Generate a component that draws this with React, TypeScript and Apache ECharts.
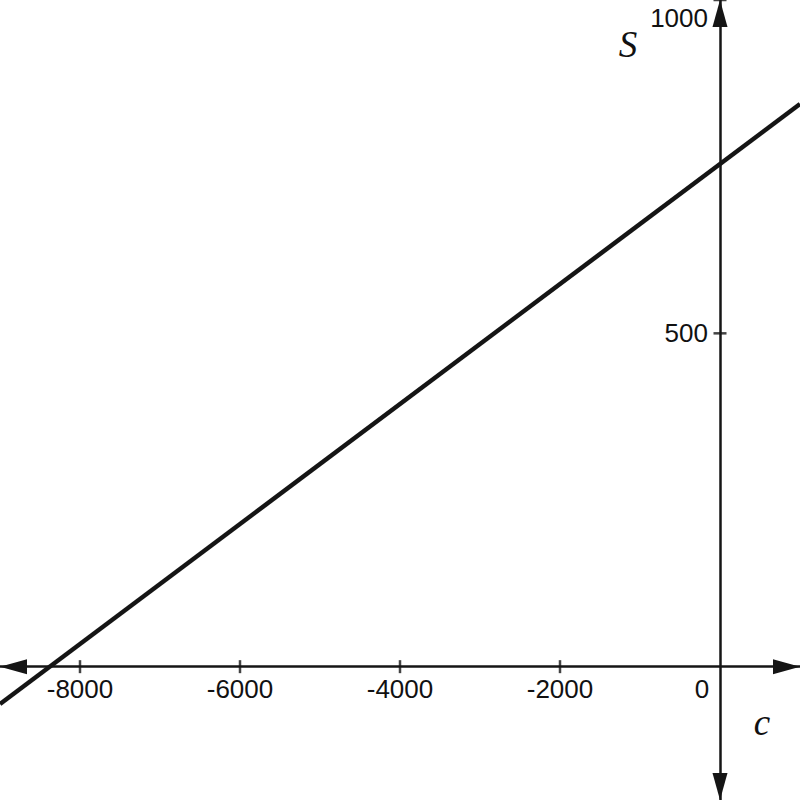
import React, { useEffect, useRef } from "react";
import * as echarts from "echarts";

// Data
const lineC = [-9000, 1000];
const lineS = [-56, 844];
const xTickValues = [-8000, -6000, -4000, -2000];
const xLabelValues = [-8000, -6000, -4000, -2000, 0];
const yTickValues = [500, 1000];
const yLabelValues = [500, 1000];
const xRange = [-9000, 1000];
const yRange = [-200, 1000];
const xName = "c";
const yName = "S";

const INK = "#151515";
const W = 800;
const H = 800;
const LABEL_FONT = "Liberation Sans, Arial, sans-serif";
const LABEL_SIZE = 26;

export default function App() {
  const ref = useRef<HTMLDivElement>(null);
  useEffect(() => {
    if (!ref.current) return;
    const chart = echarts.init(ref.current, undefined, { renderer: "svg" });
    const lineData = lineC.map((c, i) => [c, lineS[i]]);
    // place axes at the zero of the other axis (grid covers the whole canvas)
    const yAxisOffset = -((0 - xRange[0]) / (xRange[1] - xRange[0])) * W;
    const xAxisOffset = -((0 - yRange[0]) / (yRange[1] - yRange[0])) * H;
    const option: any = {
      animation: false,
      backgroundColor: "#ffffff",
      grid: {
        left: 0,
        right: 0,
        top: 0,
        bottom: 0,
        containLabel: false,
        outerBoundsMode: "none",
      },
      xAxis: {
        type: "value",
        position: "bottom",
        offset: xAxisOffset,
        min: xRange[0],
        max: xRange[1],
        splitLine: { show: false },
        axisTick: { show: false },
        axisLine: {
          onZero: false,
          symbol: ["triangle", "triangle"],
          symbolSize: [15, 27],
          symbolOffset: [13.5, -13.5],
          lineStyle: { color: INK, width: 2.5 },
        },
        axisLabel: {
          customValues: xLabelValues,
          margin: 9,
          fontFamily: LABEL_FONT,
          fontSize: LABEL_SIZE,
          color: "#111",
          formatter: (v: number) => (v === 0 ? "{z|0}" : String(v)),
          rich: {
            z: {
              padding: [0, 36, 0, 0],
              fontFamily: LABEL_FONT,
              fontSize: LABEL_SIZE,
              color: "#111",
            },
          },
        },
      },
      yAxis: {
        type: "value",
        position: "left",
        offset: yAxisOffset,
        min: yRange[0],
        max: yRange[1],
        splitLine: { show: false },
        axisTick: { show: false },
        axisLine: {
          onZero: false,
          symbol: ["triangle", "triangle"],
          symbolSize: [15, 27],
          symbolOffset: [13.5, -13.5],
          lineStyle: { color: INK, width: 2.5 },
        },
        axisLabel: {
          customValues: yLabelValues,
          margin: 12,
          fontFamily: LABEL_FONT,
          fontSize: LABEL_SIZE,
          lineHeight: 36,
          color: "#111",
          formatter: (v: number) => (v === 1000 ? "\n1000" : String(v)),
        },
      },
      graphic: [
        {
          type: "text",
          x: 628,
          y: 44,
          style: {
            text: yName,
            font: "italic 37px 'Liberation Serif', 'Times New Roman', serif",
            fill: "#111",
            textAlign: "center",
            textVerticalAlign: "middle",
          },
        },
        {
          type: "text",
          x: 762,
          y: 722,
          style: {
            text: xName,
            font: "italic 37px 'Liberation Serif', 'Times New Roman', serif",
            fill: "#111",
            textAlign: "center",
            textVerticalAlign: "middle",
          },
        },
      ],
      series: [
        {
          type: "line",
          data: lineData,
          symbol: "none",
          lineStyle: { color: INK, width: 4.5 },
          z: 3,
        },
        {
          type: "scatter",
          data: xTickValues.map((c) => [c, 0]),
          symbol: "rect",
          symbolSize: [2.5, 13],
          itemStyle: { color: INK },
          clip: false,
          z: 4,
        },
        {
          type: "scatter",
          data: yTickValues.map((s) => [0, s]),
          symbol: "rect",
          symbolSize: [13, 2.5],
          itemStyle: { color: INK },
          clip: false,
          z: 4,
        },
      ],
    };
    chart.setOption(option);
    return () => chart.dispose();
  }, []);
  return (
    <div
      ref={ref}
      style={{ position: "fixed", left: 0, top: 0, width: W, height: H }}
    />
  );
}
